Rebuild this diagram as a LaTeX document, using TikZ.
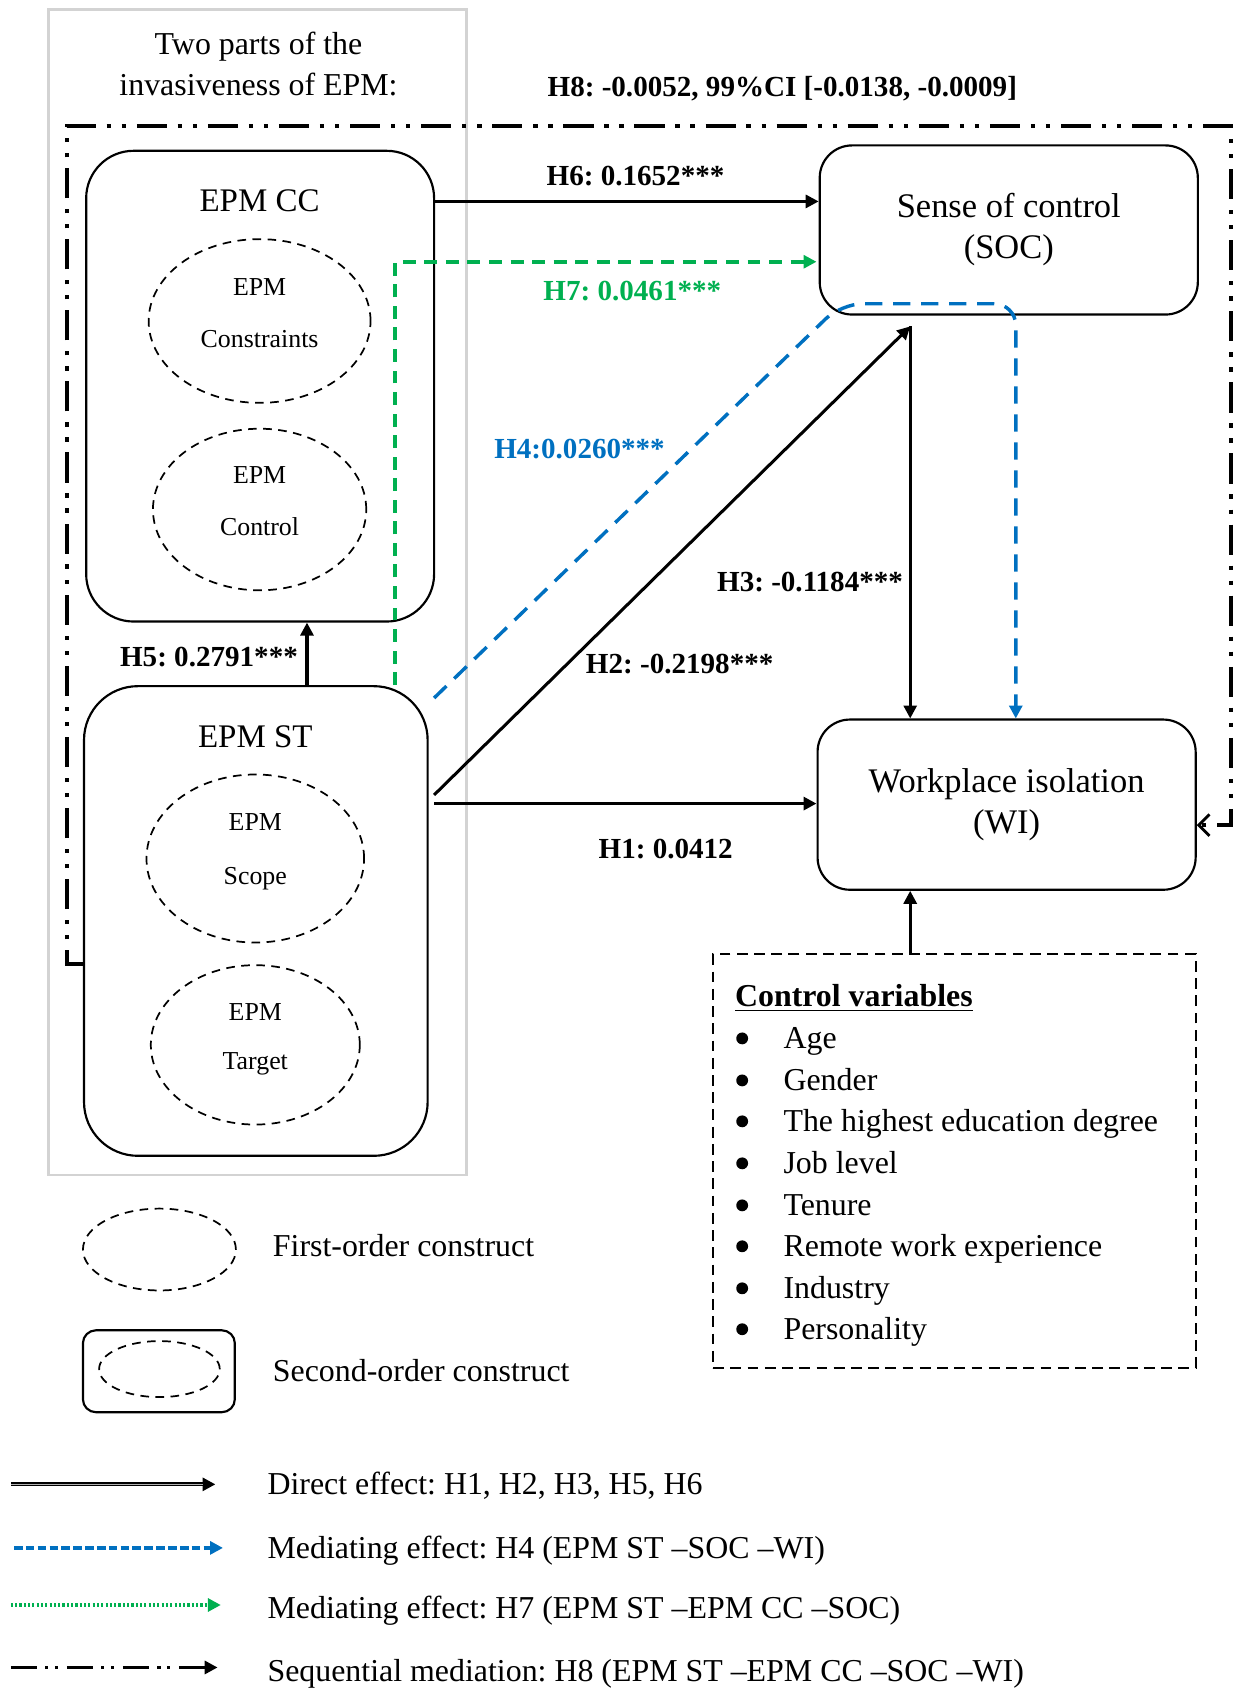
\documentclass[tikz,border=0pt]{standalone}
\usepackage{fontspec}
\setmainfont{Liberation Serif}
\usetikzlibrary{arrows.meta,shapes.geometric}
\definecolor{mygreen}{HTML}{00B050}
\definecolor{myblue}{HTML}{0070C0}
\definecolor{framegray}{HTML}{D3D3D3}
\newcommand{\fsmain}{\fontsize{16}{19}\selectfont\frenchspacing}
\newcommand{\fstext}{\fontsize{14.8}{19}\selectfont\frenchspacing}
\newcommand{\fsttl}{\fontsize{15.3}{19}\selectfont\frenchspacing}
\newcommand{\fslab}{\fontsize{13.5}{16}\selectfont\bfseries\frenchspacing}
\newcommand{\fsell}{\fontsize{12}{14}\selectfont\frenchspacing}
\begin{document}
\begin{tikzpicture}[x=0.5pt,y=-0.5pt,
  box/.style={draw, line width=1pt, rounded corners=#1, inner sep=0pt},
  construct/.style={draw, ellipse, line width=0.8pt, dash pattern=on 4pt off 3pt, inner sep=0pt},
  txt/.style={font=\fstext, inner sep=0pt},
  itm/.style={font=\fstext, inner sep=0pt, anchor=west, text height=0.86em, text depth=0.2em, yshift=-1.5pt},
  etxt/.style={font=\fsell, inner sep=0pt, text height=0.86em, text depth=0.2em, yshift=-0.8pt},
  lab/.style={font=\fslab, inner sep=0pt},
  tip/.style={-{Triangle[length=6pt,width=6pt]}},
  direct/.style={tip, line width=1.4pt},
  h4line/.style={-{Triangle[length=6pt,width=6pt]}, myblue, line width=1.6pt, dash pattern=on 8pt off 5pt},
  h7line/.style={-{Triangle[length=6pt,width=6pt]}, mygreen, line width=1.7pt, dash pattern=on 6pt off 4pt},
  h8line/.style={line width=1.6pt, dash pattern=on 14pt off 5pt on 2pt off 5pt on 2pt off 5pt},
  bulletdot/.style={circle, fill, inner sep=0pt, minimum size=5.5pt}
]
\useasboundingbox (0,0) rectangle (1146,1568);

% frame and title
\node[draw=framegray, line width=1.2pt, minimum width=194pt, minimum height=541pt, inner sep=0pt] (frame) at (239,550) {};
\node[txt, align=center] (title) at (240,59) {Two parts of the\\invasiveness of EPM:};

% EPM CC
\node[box=22pt, minimum width=161.5pt, minimum height=218.5pt] (CC) at (241.5,358.5) {};
\node[txt, font=\fsttl] (cct) at (241,186) {EPM CC};
\node[construct, minimum width=103pt, minimum height=76pt] (e1) at (241,298) {};
\node[etxt] (e1a) at (241,266) {EPM};
\node[etxt] (e1b) at (241,314) {Constraints};
\node[construct, minimum width=99pt, minimum height=75pt] (e2) at (241,473) {};
\node[etxt] (e2a) at (241,441) {EPM};
\node[etxt] (e2b) at (241,489) {Control};

% EPM ST
\node[box=25pt, minimum width=159.5pt, minimum height=218pt] (ST) at (237.5,855) {};
\node[txt, font=\fsttl] (stt) at (237,684) {EPM ST};
\node[construct, minimum width=101pt, minimum height=78pt] (e3) at (237,797) {};
\node[etxt] (e3a) at (237,763) {EPM};
\node[etxt] (e3b) at (237,813) {Scope};
\node[construct, minimum width=97pt, minimum height=74pt] (e4) at (237,970) {};
\node[etxt] (e4a) at (237,939) {EPM};
\node[etxt] (e4b) at (237,985) {Target};

% SOC and WI
\node[box=15pt, minimum width=175.5pt, minimum height=78.5pt, font=\fsmain, align=center] (SOC) at (936.5,213.5) {Sense of control\\(SOC)};
\node[box=15pt, minimum width=175.5pt, minimum height=79pt, font=\fsmain, align=center] (WI) at (934.5,747) {Workplace isolation\\(WI)};

% control variables
\node[draw, line width=1pt, dash pattern=on 5pt off 3pt, minimum width=224pt, minimum height=192pt, inner sep=0pt] (ctrl) at (886,1078) {};
\node[itm] (cvt) at (682,925) {\underline{\textbf{Control variables}}};
\foreach \i/\t [count=\k] in {964/Age,1003/Gender,1041/The highest education degree,1080/Job level,1119/Tenure,1157/Remote work experience,1196/Industry,1234/Personality}{
  \node[bulletdot] (b\k) at (689,\i) {};
  \node[itm] (cv\k) at (727,\i) {\t};
}

% helper coordinates
\coordinate (h5x) at (285,0);
\coordinate (h6y) at (0,187);
\coordinate (h7c) at (367,243);
\coordinate (h1y) at (0,746);
\coordinate (h2s) at (0,738);
\coordinate (h3top) at (845,303);
\coordinate (h4x) at (943,0);
\coordinate (h4s) at (403,648);
\coordinate (h4c) at (781,282);
\coordinate (h4d) at (943,282);
\coordinate (h8a) at (62,895);
\coordinate (h8b) at (62,117);
\coordinate (h8c) at (1143,117);
\coordinate (h8d) at (1143,766);

% H8 sequential mediation
\draw[h8line, -{Straight Barb[length=5pt,width=10pt,line width=1.3pt]}] (ST.west |- h8a) -- (h8a) -- (h8b) -- (h8c) -- (h8d) -- (WI.east |- h8d);
\node[lab, anchor=west] (l8) at (508,82) {H8: -0.0052, 99\%CI [-0.0138, -0.0009]};

% H5
\draw[direct] (ST.north -| h5x) -- (CC.south -| h5x);
\node[lab] (l5) at (194,610) {H5: 0.2791***};

% H6
\draw[direct] (CC.east |- h6y) -- (SOC.west |- h6y);
\node[lab] (l6) at (590,163) {H6: 0.1652***};

% H7
\draw[h7line] (ST.north -| h7c) -- (h7c) -- ([xshift=-1pt]SOC.west |- h7c);
\node[lab, text=mygreen] (l7) at (587,270) {H7: 0.0461***};

% H4
\draw[h4line, rounded corners=10pt] (h4s) -- (h4c) -- (h4d) -- (WI.north -| h4x);
\node[lab, text=myblue] (l4) at (538,417) {H4:0.0260***};

% H2
\draw[direct] ([xshift=2.5pt]ST.east |- h2s) -- (h3top);
\node[lab] (l2) at (631,616) {H2: -0.2198***};

% H3
\draw[direct] (h3top) -- (WI.north -| h3top);
\node[lab] (l3) at (752,540) {H3: -0.1184***};

% H1
\draw[direct, line width=1.7pt] ([xshift=2.5pt]ST.east |- h1y) -- (WI.west |- h1y);
\node[lab] (l1) at (618,788) {H1: 0.0412};

% control -> WI
\draw[direct] (ctrl.north -| h3top) -- (WI.south -| h3top);

% legend constructs
\node[construct, minimum width=71pt, minimum height=38pt] (lg1) at (148,1160) {};
\node[itm] (lg1t) at (253,1157) {First-order construct};
\node[box=6pt, minimum width=70.5pt, minimum height=38pt] (lg2) at (147.5,1273) {};
\node[construct, minimum width=56pt, minimum height=26pt] (lg2e) at (148,1271) {};
\node[itm] (lg2t) at (253,1273) {Second-order construct};

% legend arrows
\coordinate (la1) at (10,1378); \coordinate (lb1) at (200,1378);
\coordinate (la2) at (13,1437); \coordinate (lb2) at (207,1437);
\coordinate (la3) at (10,1490); \coordinate (lb3) at (205,1490);
\coordinate (la4) at (10,1548); \coordinate (lb4) at (202,1548);
\draw[direct, line width=1.8pt] (la1) -- (lb1);
\draw[gray!60, line width=0.4pt] (la1) -- ([xshift=-6pt]lb1);
\draw[-{Triangle[length=6pt,width=6pt]}, myblue, line width=1.6pt, dash pattern=on 4pt off 1.5pt] (la2) -- (lb2);
\draw[-{Triangle[length=6pt,width=6pt]}, mygreen, line width=1.6pt, dash pattern=on 1pt off 1pt] (la3) -- (lb3);
\draw[-{Triangle[length=6pt,width=6pt]}, line width=1.6pt, dash pattern=on 12pt off 4pt on 1.5pt off 3pt on 1.5pt off 4pt] (la4) -- (lb4);
\node[itm] (lt1) at (248,1378) {Direct effect: H1, H2, H3, H5, H6};
\node[itm] (lt2) at (248,1437) {Mediating effect: H4 (EPM ST –SOC –WI)};
\node[itm] (lt3) at (248,1493) {Mediating effect: H7 (EPM ST –EPM CC –SOC)};
\node[itm] (lt4) at (248,1551) {Sequential mediation: H8 (EPM ST –EPM CC –SOC –WI)};
\end{tikzpicture}
\end{document}
